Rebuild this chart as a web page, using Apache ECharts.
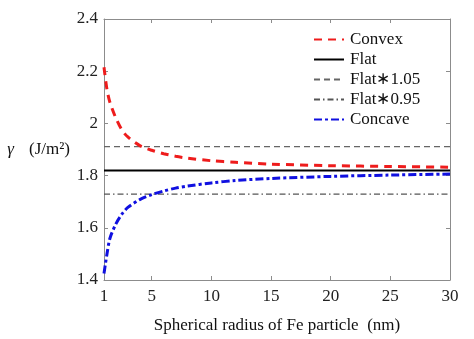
<!DOCTYPE html>
<html>
<head>
<meta charset="utf-8">
<script src="https://cdn.jsdelivr.net/npm/echarts@6/dist/echarts.min.js"></script>
<style>
  html, body { margin: 0; padding: 0; background: #fff; }
  #chart { width: 474px; height: 339px; }
</style>
</head>
<body>
<div id="chart"></div>
<script>
// Spherical radius of Fe particle (nm)
const radius = [1, 1.25, 1.5, 2, 2.5, 3, 4, 5, 6, 7, 8, 10, 12, 15, 20, 25, 30];
// Surface energy of convex surfaces (J/m^2)
const convex = [2.215, 2.13, 2.08, 2.02, 1.975, 1.948, 1.915, 1.897, 1.884, 1.874, 1.867, 1.857, 1.851, 1.844, 1.838, 1.835, 1.832];
// Surface energy of concave surfaces (J/m^2)
const concave = [1.425, 1.50, 1.56, 1.615, 1.652, 1.678, 1.708, 1.727, 1.741, 1.752, 1.760, 1.772, 1.781, 1.789, 1.797, 1.802, 1.806];
// Flat surface energy and its reference bands
const flatValue = 1.82;
const flatHigh = 1.911;
const flatLow = 1.729;
const xRange = [1, 30];
const xTicks = [1, 5, 10, 15, 20, 25, 30];
const yTicks = [1.4, 1.6, 1.8, 2, 2.2, 2.4];

const FONT = '"Liberation Serif", "Times New Roman", serif';
const AXIS_GREY = '#8c8c8c';

const pairs = (xs, ys) => xs.map((x, i) => [x, ys[i]]);
const level = v => xRange.map(x => [x, v]);

const chart = echarts.init(document.getElementById('chart'), null, { renderer: 'canvas' });

const baseAxis = {
  axisLine: { show: true, onZero: false, lineStyle: { color: AXIS_GREY, width: 1 } },
  axisTick: { show: true, inside: true, length: 4, lineStyle: { color: AXIS_GREY } },
  splitLine: { show: false },
  axisLabel: { color: '#222', fontFamily: FONT, fontSize: 17 }
};

const lineSeries = (name, data, color, width, type, z, smooth) => ({
  name, type: 'line', data, symbol: 'none', z,
  smooth: smooth ? 0.3 : false,
  itemStyle: { color },
  lineStyle: { color, width, type }
});

chart.setOption({
  animation: false,
  backgroundColor: '#fff',
  grid: { left: 104, right: 24, top: 19, bottom: 59 },
  legend: {
    orient: 'vertical',
    left: 313,
    top: 31,
    padding: 0,
    itemWidth: 30,
    itemHeight: 16,
    itemGap: 3,
    itemStyle: { opacity: 0 },
    textStyle: { fontFamily: FONT, fontSize: 17, color: '#111', padding: [0, 0, 0, 1] },
    data: ['Convex', 'Flat', 'Flat∗1.05', 'Flat∗0.95', 'Concave']
  },
  xAxis: [
    Object.assign({}, baseAxis, {
      type: 'value', min: xRange[0], max: xRange[1], position: 'bottom',
      axisTick: Object.assign({}, baseAxis.axisTick, { customValues: xTicks }),
      axisLabel: Object.assign({}, baseAxis.axisLabel, { customValues: xTicks, margin: 8 }),
      name: 'Spherical radius of Fe particle  (nm)',
      nameLocation: 'middle',
      nameGap: 37,
      nameTextStyle: { fontFamily: FONT, fontSize: 17, color: '#111' }
    }),
    Object.assign({}, baseAxis, {
      type: 'value', min: xRange[0], max: xRange[1], position: 'top',
      axisTick: Object.assign({}, baseAxis.axisTick, { customValues: xTicks }),
      axisLabel: { show: false }
    })
  ],
  yAxis: [
    Object.assign({}, baseAxis, {
      type: 'value', min: 1.4, max: 2.4, interval: 0.2, position: 'left',
      axisLabel: Object.assign({}, baseAxis.axisLabel, { margin: 6 }),
      name: '{g|γ}{u|(J/m²)}',
      nameLocation: 'middle',
      nameRotate: 0,
      nameGap: 34,
      nameTextStyle: {
        align: 'right',
        rich: {
          g: { fontFamily: FONT, fontSize: 17, fontStyle: 'italic', color: '#111' },
          u: { fontFamily: FONT, fontSize: 17, color: '#111', padding: [0, 0, 0, 15] }
        }
      }
    }),
    Object.assign({}, baseAxis, {
      type: 'value', min: 1.4, max: 2.4, interval: 0.2, position: 'right',
      axisLabel: { show: false }
    })
  ],
  series: [
    lineSeries('Convex', pairs(radius, convex), '#ee1c1c', 3, [8, 6], 5, true),
    lineSeries('Flat', level(flatValue), '#000000', 2, 'solid', 3, false),
    lineSeries('Flat∗1.05', level(flatHigh), '#666666', 1.3, [6, 4], 2, false),
    lineSeries('Flat∗0.95', level(flatLow), '#555555', 1.1, [6, 3, 1.5, 3], 2, false),
    lineSeries('Concave', pairs(radius, concave), '#1010e0', 3, [8, 3, 3, 3], 5, true)
  ]
});
</script>
</body>
</html>
